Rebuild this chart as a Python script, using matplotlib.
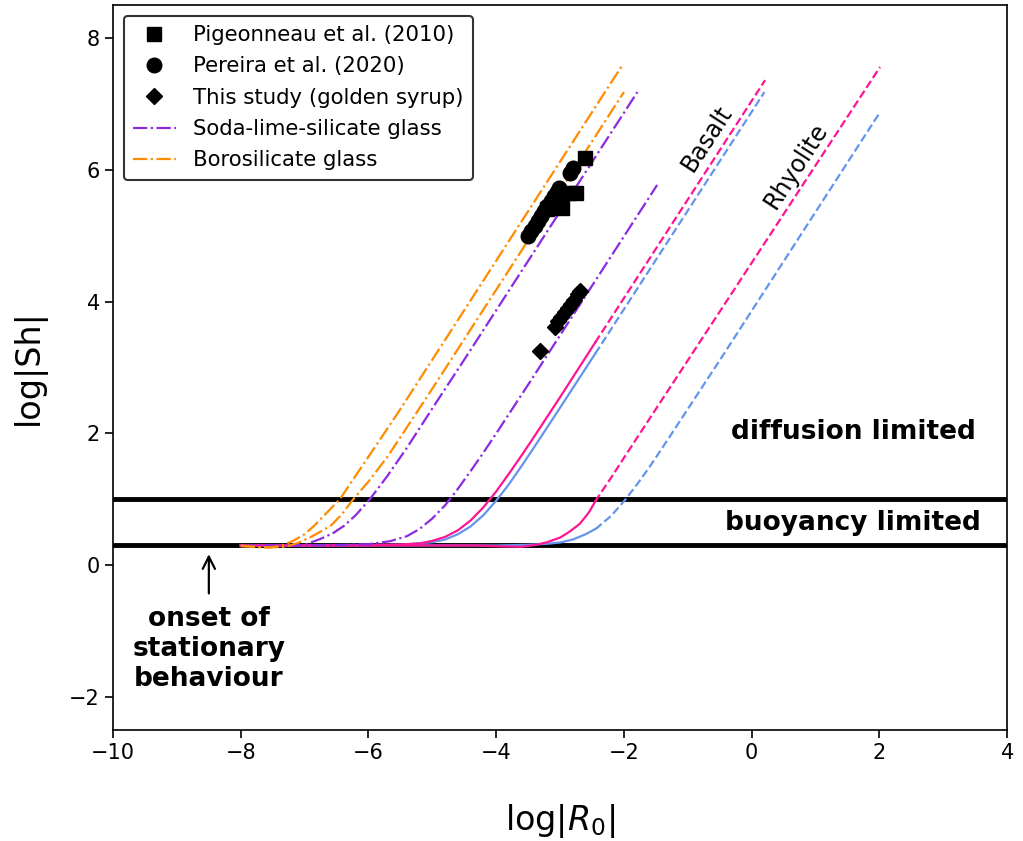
import matplotlib
matplotlib.use("Agg")
import matplotlib.pyplot as plt
import numpy as np

# ---- experimental data (log R0, log Sh) ----
pig_x = [-2.61, -2.75, -2.86, -2.97, -3.05, -3.20]
pig_y = [6.18, 5.65, 5.65, 5.42, 5.58, 5.40]

per_x = [-3.50, -3.45, -3.40, -3.35, -3.30, -3.25, -3.20, -3.15, -3.10, -3.05, -3.02, -2.84, -2.80]
per_y = [5.00, 5.07, 5.15, 5.22, 5.30, 5.37, 5.45, 5.52, 5.60, 5.67, 5.72, 5.95, 6.02]

syr_x = [-3.31, -3.08, -3.03, -2.98, -2.93, -2.88, -2.83, -2.78, -2.72, -2.69]
syr_y = [3.25, 3.62, 3.70, 3.77, 3.84, 3.91, 3.97, 4.03, 4.12, 4.16]

# ---- model curves (log R0, log Sh) ----
boro1_x = [-8.0, -7.8, -7.55, -7.35, -7.18, -7.0, -6.85, -6.65, -6.45, -6.2, -5.9, -5.5, -5.0, -2.03]
boro1_y = [0.30, 0.28, 0.27, 0.30, 0.37, 0.47, 0.60, 0.80, 1.00, 1.36, 1.79, 2.37, 3.12, 7.58]

boro2_x = [-8.0, -7.6, -7.3, -7.1, -6.9, -6.75, -6.59, -6.42, -6.24, -6.0, -5.7, -5.4, -5.0, -4.5, -2.0]
boro2_y = [0.29, 0.27, 0.28, 0.34, 0.43, 0.51, 0.60, 0.77, 1.00, 1.27, 1.65, 2.09, 2.68, 3.43, 7.18]

sls1_x = [-8.0, -7.5, -7.0, -6.75, -6.55, -6.38, -6.2, -5.98, -5.7, -5.4, -5.0, -4.5, -1.79]
sls1_y = [0.29, 0.28, 0.31, 0.40, 0.49, 0.60, 0.76, 1.00, 1.36, 1.78, 2.38, 3.12, 7.18]

sls2_x = [-8.0, -6.5, -6.0, -5.66, -5.4, -5.2, -5.0, -4.8, -4.6, -4.4, -4.2, -4.0, -3.5, -1.48]
sls2_y = [0.30, 0.305, 0.32, 0.365, 0.44, 0.55, 0.71, 0.91, 1.16, 1.43, 1.71, 2.00, 2.74, 5.77]

bas_pink_x = [-8.0, -6.0, -5.5, -5.2, -5.0, -4.8, -4.6, -4.4, -4.2, -4.0, -3.8, -3.6, -3.4, -3.0, -2.45, 0.21]
bas_pink_y = [0.30, 0.305, 0.315, 0.33, 0.37, 0.43, 0.53, 0.68, 0.88, 1.12, 1.39, 1.67, 1.96, 2.55, 3.38, 7.36]

bas_blue_x = [-8.0, -5.5, -5.0, -4.8, -4.6, -4.4, -4.2, -4.0, -3.8, -3.6, -3.4, -3.0, -2.45, 0.20]
bas_blue_y = [0.30, 0.31, 0.35, 0.39, 0.47, 0.59, 0.76, 0.98, 1.23, 1.51, 1.80, 2.39, 3.21, 7.18]

rhy_pink_x = [-8.0, -5.0, -4.3, -3.9, -3.6, -3.37, -3.2, -3.0, -2.85, -2.69, -2.55, -2.43, -2.2, -2.0, -1.5, 2.01]
rhy_pink_y = [0.30, 0.30, 0.30, 0.285, 0.28, 0.31, 0.35, 0.42, 0.51, 0.63, 0.80, 1.00, 1.33, 1.63, 2.37, 7.56]

rhy_blue_x = [-8.0, -4.0, -3.5, -3.2, -3.0, -2.8, -2.6, -2.43, -2.2, -2.0, -1.8, -1.6, -1.4, -1.0, -0.5, 2.0]
rhy_blue_y = [0.30, 0.30, 0.31, 0.325, 0.345, 0.39, 0.47, 0.56, 0.75, 0.97, 1.22, 1.49, 1.78, 2.37, 3.11, 6.86]

# boundary between the computed range (solid) and extrapolation (dashed)
x_split = -2.45

C_PINK = "deeppink"
C_BLUE = "cornflowerblue"
C_PURPLE = "blueviolet"
C_ORANGE = "darkorange"

fig = plt.figure(figsize=(10.23, 8.41), dpi=100)
ax = fig.add_axes([0.1105, 0.132, 0.874, 0.862])


def split_curve(xs, ys, color):
    xs = np.asarray(xs)
    ys = np.asarray(ys)
    yb = np.interp(x_split, xs, ys)
    lo = xs < x_split
    ax.plot(np.r_[xs[lo], x_split], np.r_[ys[lo], yb], color=color, lw=1.6, ls="-", zorder=2)
    ax.plot(np.r_[x_split, xs[~lo]], np.r_[yb, ys[~lo]], color=color, lw=1.6, ls="--", zorder=2)


split_curve(bas_blue_x, bas_blue_y, C_BLUE)
split_curve(rhy_blue_x, rhy_blue_y, C_BLUE)
split_curve(bas_pink_x, bas_pink_y, C_PINK)
split_curve(rhy_pink_x, rhy_pink_y, C_PINK)

ax.plot(sls2_x, sls2_y, color=C_PURPLE, lw=1.6, ls="-.", zorder=2)
ax.plot(sls1_x, sls1_y, color=C_PURPLE, lw=1.6, ls="-.", zorder=2,
        label="Soda-lime-silicate glass")
ax.plot(boro2_x, boro2_y, color=C_ORANGE, lw=1.6, ls="-.", zorder=2)
ax.plot(boro1_x, boro1_y, color=C_ORANGE, lw=1.6, ls="-.", zorder=2,
        label="Borosilicate glass")

# regime boundaries
ax.axhline(1.0, color="k", lw=3.5, zorder=1)
ax.axhline(0.3, color="k", lw=3.5, zorder=1)

ax.plot(pig_x, pig_y, ls="none", marker="s", ms=9.5, color="k", zorder=4,
        label="Pigeonneau et al. (2010)")
ax.plot(per_x, per_y, ls="none", marker="o", ms=10.5, color="k", zorder=4,
        label="Pereira et al. (2020)")
ax.plot(syr_x, syr_y, ls="none", marker="D", ms=8.5, color="k", zorder=4,
        label="This study (golden syrup)")

handles, labels = ax.get_legend_handles_labels()
order = [2, 3, 4, 0, 1]
leg = ax.legend([handles[i] for i in order], [labels[i] for i in order],
                loc="upper left", fontsize=15.3, frameon=True, fancybox=True,
                edgecolor="#333333", framealpha=1.0, borderpad=0.45,
                labelspacing=0.53, bbox_to_anchor=(0.0, 1.0))
leg.get_frame().set_linewidth(1.5)

# annotations
ax.text(1.59, 2.02, "diffusion limited", ha="center", va="center",
        fontsize=19, fontweight="bold")
ax.text(1.59, 0.64, "buoyancy limited", ha="center", va="center",
        fontsize=19, fontweight="bold")
ax.text(-0.70, 6.48, "Basalt", ha="center", va="center", fontsize=17,
        rotation=57)
ax.text(0.69, 6.06, "Rhyolite", ha="center", va="center", fontsize=17,
        rotation=57)
ax.annotate("", xy=(-8.5, 0.21), xytext=(-8.5, -0.47),
            arrowprops=dict(arrowstyle="->", lw=1.6, color="k",
                            mutation_scale=22))
ax.text(-8.5, -0.62, "onset of\nstationary\nbehaviour", ha="center", va="top",
        fontsize=19, fontweight="bold", linespacing=1.2)

ax.set_xlim(-10, 4)
ax.set_ylim(-2.5, 8.5)
ax.set_xticks([-10, -8, -6, -4, -2, 0, 2, 4])
ax.set_yticks([-2, 0, 2, 4, 6, 8])
ax.tick_params(labelsize=15, width=1.2, length=6)
for s in ax.spines.values():
    s.set_linewidth(1.2)
ax.set_xlabel(r"log|$R_0$|", fontsize=24, labelpad=28)
ax.set_ylabel("log|Sh|", fontsize=24, labelpad=17)

fig.savefig("out.png", dpi=100)
